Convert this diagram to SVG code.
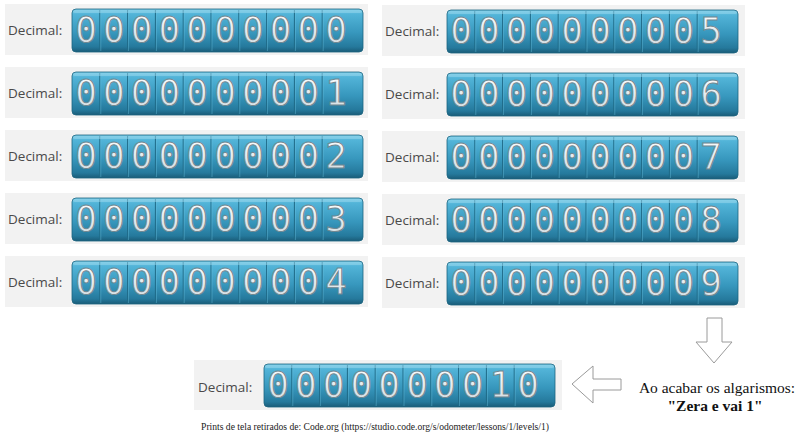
<svg xmlns="http://www.w3.org/2000/svg" xmlns:xlink="http://www.w3.org/1999/xlink" width="800" height="435" viewBox="0 0 800 435">
<defs>
<linearGradient id="odo" x1="0" y1="0" x2="0" y2="1">
<stop offset="0" stop-color="#78cbe6"/>
<stop offset="0.12" stop-color="#52b4d8"/>
<stop offset="0.55" stop-color="#3797bd"/>
<stop offset="0.88" stop-color="#25799c"/>
<stop offset="1" stop-color="#1a5c78"/>
</linearGradient>
<linearGradient id="dig" x1="0" y1="0" x2="0" y2="1">
<stop offset="0" stop-color="#ffffff"/>
<stop offset="1" stop-color="#cfd9de"/>
</linearGradient>
<g id="odoBase">
<rect x="0" y="0" width="291" height="43" rx="4" fill="url(#odo)" stroke="#1d6580" stroke-width="0.8"/>
<g class="div">
<line x1="27.8" y1="1" x2="27.8" y2="42"/><line x1="55.6" y1="1" x2="55.6" y2="42"/><line x1="83.4" y1="1" x2="83.4" y2="42"/><line x1="111.2" y1="1" x2="111.2" y2="42"/><line x1="139" y1="1" x2="139" y2="42"/><line x1="166.8" y1="1" x2="166.8" y2="42"/><line x1="194.6" y1="1" x2="194.6" y2="42"/><line x1="222.4" y1="1" x2="222.4" y2="42"/><line x1="250.2" y1="1" x2="250.2" y2="42"/>
</g>
<g class="divh">
<line x1="28.8" y1="1" x2="28.8" y2="42"/><line x1="56.6" y1="1" x2="56.6" y2="42"/><line x1="84.4" y1="1" x2="84.4" y2="42"/><line x1="112.2" y1="1" x2="112.2" y2="42"/><line x1="140" y1="1" x2="140" y2="42"/><line x1="167.8" y1="1" x2="167.8" y2="42"/><line x1="195.6" y1="1" x2="195.6" y2="42"/><line x1="223.4" y1="1" x2="223.4" y2="42"/><line x1="251.2" y1="1" x2="251.2" y2="42"/>
</g>
<rect x="1" y="1" width="289" height="3" rx="2" fill="#9ad8ee" opacity="0.5"/>
</g>
</defs>
<style>
.bg{fill:#f2f2f2}
.lbl{font-family:"Open Sans","Liberation Sans",sans-serif;font-size:13.5px;fill:#4a4a4a}
.dg{font-family:"DejaVu Sans Mono",monospace;font-size:36px;fill:url(#dig);stroke:#6f8791;stroke-width:1;text-anchor:middle}
.div line{stroke:#1f6b88;stroke-width:1}
.divh line{stroke:#6cc2e0;stroke-width:0.6;opacity:0.7}
.arr{fill:#ffffff;stroke:#9a9a9a;stroke-width:1}
.note{font-size:15.5px;fill:#111;text-anchor:middle}
.cap{font-size:9.6px;fill:#222;text-anchor:middle}
</style>
<rect width="800" height="435" fill="#ffffff"/>

<g id="n0" transform="translate(5,4)">
<rect class="bg" width="363" height="51"/>
<text class="lbl" x="3" y="31">Decimal:</text>
<g transform="translate(67,5)"><use xlink:href="#odoBase"/>
<text class="dg" y="33"><tspan x="14">0</tspan><tspan x="41.8">0</tspan><tspan x="69.6">0</tspan><tspan x="97.4">0</tspan><tspan x="125.2">0</tspan><tspan x="153">0</tspan><tspan x="180.8">0</tspan><tspan x="208.6">0</tspan><tspan x="236.4">0</tspan><tspan x="264.2">0</tspan></text></g>
</g>
<g id="n1" transform="translate(5,67)">
<rect class="bg" width="363" height="51"/>
<text class="lbl" x="3" y="31">Decimal:</text>
<g transform="translate(67,5)"><use xlink:href="#odoBase"/>
<text class="dg" y="33"><tspan x="14">0</tspan><tspan x="41.8">0</tspan><tspan x="69.6">0</tspan><tspan x="97.4">0</tspan><tspan x="125.2">0</tspan><tspan x="153">0</tspan><tspan x="180.8">0</tspan><tspan x="208.6">0</tspan><tspan x="236.4">0</tspan><tspan x="264.2">1</tspan></text></g>
</g>
<g id="n2" transform="translate(5,130)">
<rect class="bg" width="363" height="51"/>
<text class="lbl" x="3" y="31">Decimal:</text>
<g transform="translate(67,5)"><use xlink:href="#odoBase"/>
<text class="dg" y="33"><tspan x="14">0</tspan><tspan x="41.8">0</tspan><tspan x="69.6">0</tspan><tspan x="97.4">0</tspan><tspan x="125.2">0</tspan><tspan x="153">0</tspan><tspan x="180.8">0</tspan><tspan x="208.6">0</tspan><tspan x="236.4">0</tspan><tspan x="264.2">2</tspan></text></g>
</g>
<g id="n3" transform="translate(5,193)">
<rect class="bg" width="363" height="51"/>
<text class="lbl" x="3" y="31">Decimal:</text>
<g transform="translate(67,5)"><use xlink:href="#odoBase"/>
<text class="dg" y="33"><tspan x="14">0</tspan><tspan x="41.8">0</tspan><tspan x="69.6">0</tspan><tspan x="97.4">0</tspan><tspan x="125.2">0</tspan><tspan x="153">0</tspan><tspan x="180.8">0</tspan><tspan x="208.6">0</tspan><tspan x="236.4">0</tspan><tspan x="264.2">3</tspan></text></g>
</g>
<g id="n4" transform="translate(5,256)">
<rect class="bg" width="363" height="51"/>
<text class="lbl" x="3" y="31">Decimal:</text>
<g transform="translate(67,5)"><use xlink:href="#odoBase"/>
<text class="dg" y="33"><tspan x="14">0</tspan><tspan x="41.8">0</tspan><tspan x="69.6">0</tspan><tspan x="97.4">0</tspan><tspan x="125.2">0</tspan><tspan x="153">0</tspan><tspan x="180.8">0</tspan><tspan x="208.6">0</tspan><tspan x="236.4">0</tspan><tspan x="264.2">4</tspan></text></g>
</g>

<g id="n5" transform="translate(382,5)">
<rect class="bg" width="363" height="51"/>
<text class="lbl" x="3" y="31">Decimal:</text>
<g transform="translate(65,5)"><use xlink:href="#odoBase"/>
<text class="dg" y="33"><tspan x="14">0</tspan><tspan x="41.8">0</tspan><tspan x="69.6">0</tspan><tspan x="97.4">0</tspan><tspan x="125.2">0</tspan><tspan x="153">0</tspan><tspan x="180.8">0</tspan><tspan x="208.6">0</tspan><tspan x="236.4">0</tspan><tspan x="264.2">5</tspan></text></g>
</g>
<g id="n6" transform="translate(382,68)">
<rect class="bg" width="363" height="51"/>
<text class="lbl" x="3" y="31">Decimal:</text>
<g transform="translate(65,5)"><use xlink:href="#odoBase"/>
<text class="dg" y="33"><tspan x="14">0</tspan><tspan x="41.8">0</tspan><tspan x="69.6">0</tspan><tspan x="97.4">0</tspan><tspan x="125.2">0</tspan><tspan x="153">0</tspan><tspan x="180.8">0</tspan><tspan x="208.6">0</tspan><tspan x="236.4">0</tspan><tspan x="264.2">6</tspan></text></g>
</g>
<g id="n7" transform="translate(382,131)">
<rect class="bg" width="363" height="51"/>
<text class="lbl" x="3" y="31">Decimal:</text>
<g transform="translate(65,5)"><use xlink:href="#odoBase"/>
<text class="dg" y="33"><tspan x="14">0</tspan><tspan x="41.8">0</tspan><tspan x="69.6">0</tspan><tspan x="97.4">0</tspan><tspan x="125.2">0</tspan><tspan x="153">0</tspan><tspan x="180.8">0</tspan><tspan x="208.6">0</tspan><tspan x="236.4">0</tspan><tspan x="264.2">7</tspan></text></g>
</g>
<g id="n8" transform="translate(382,194)">
<rect class="bg" width="363" height="51"/>
<text class="lbl" x="3" y="31">Decimal:</text>
<g transform="translate(65,5)"><use xlink:href="#odoBase"/>
<text class="dg" y="33"><tspan x="14">0</tspan><tspan x="41.8">0</tspan><tspan x="69.6">0</tspan><tspan x="97.4">0</tspan><tspan x="125.2">0</tspan><tspan x="153">0</tspan><tspan x="180.8">0</tspan><tspan x="208.6">0</tspan><tspan x="236.4">0</tspan><tspan x="264.2">8</tspan></text></g>
</g>
<g id="n9" transform="translate(382,257)">
<rect class="bg" width="363" height="51"/>
<text class="lbl" x="3" y="31">Decimal:</text>
<g transform="translate(65,5)"><use xlink:href="#odoBase"/>
<text class="dg" y="33"><tspan x="14">0</tspan><tspan x="41.8">0</tspan><tspan x="69.6">0</tspan><tspan x="97.4">0</tspan><tspan x="125.2">0</tspan><tspan x="153">0</tspan><tspan x="180.8">0</tspan><tspan x="208.6">0</tspan><tspan x="236.4">0</tspan><tspan x="264.2">9</tspan></text></g>
</g>

<g id="n10" transform="translate(194,360)">
<rect class="bg" width="368" height="50"/>
<text class="lbl" x="4" y="32">Decimal:</text>
<g transform="translate(70,4)"><use xlink:href="#odoBase"/>
<text class="dg" y="33"><tspan x="14">0</tspan><tspan x="41.8">0</tspan><tspan x="69.6">0</tspan><tspan x="97.4">0</tspan><tspan x="125.2">0</tspan><tspan x="153">0</tspan><tspan x="180.8">0</tspan><tspan x="208.6">0</tspan><tspan x="236.4">1</tspan><tspan x="264.2">0</tspan></text></g>
</g>

<g id="connectors">
<polygon class="arr" points="707,318 722,318 722,342 732,342 714,363 696,342 707,342"/>
<polygon class="arr" points="572,384 593,366 593,379 621,379 621,390 593,390 593,403"/>
</g>

<g id="note" font-family="'Liberation Serif', 'Times New Roman', serif">
<text class="note" x="717" y="393">Ao acabar os algarismos:</text>
<text class="note" x="715" y="411" font-weight="bold">"Zera e vai 1"</text>
</g>

<g id="caption" font-family="'Liberation Serif', 'Times New Roman', serif">
<text class="cap" x="375" y="430">Prints de tela retirados de: Code.org (https://studio.code.org/s/odometer/lessons/1/levels/1)</text>
</g>
</svg>
